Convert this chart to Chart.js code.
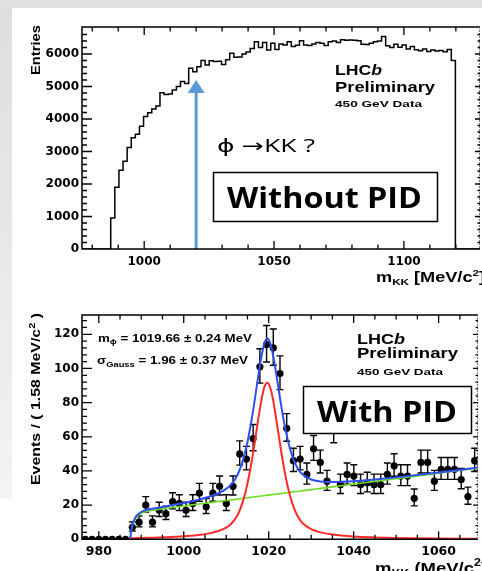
<!DOCTYPE html>
<html>
<head>
<meta charset="utf-8">
<script src="https://cdn.jsdelivr.net/npm/chart.js@4.4.1/dist/chart.umd.min.js"></script>
<style>
  html, body { margin: 0; padding: 0; width: 482px; height: 571px; overflow: hidden; background: #fff; }
  #band-top { position: absolute; left: 0; top: 0; width: 482px; height: 8px; background: #e1e1e1; }
  #band-left { position: absolute; left: 0; top: 8px; width: 12px; height: 491px;
               background: linear-gradient(to bottom, #dedede, #f3f3f3); }
  .pad { position: absolute; left: 0; width: 482px; }
  canvas { display: block; }
</style>
</head>
<body>
<div id="band-top"></div>
<div id="band-left"></div>
<div class="pad" style="top:0;height:290px"><canvas id="noPid" width="482" height="290"></canvas></div>
<div class="pad" style="top:290px;height:281px"><canvas id="withPid" width="482" height="281"></canvas></div>

<script>
// ---------------- K+K- invariant mass, 450 GeV data ----------------
const BIN_WIDTH = 1.58;            // MeV/c^2 per bin
const MASS_LOW = 976.05;           // lower edge of both mass windows

// Without PID: entries per bin, first filled bin starts at the KK threshold
const noPidFirstEdge = 987.11;
const noPidEntries = [
  950, 1900, 2420, 2700, 3120, 3420, 3530, 3780, 4080, 4190,
  4310, 4400, 4810, 4750, 4770, 4890, 5000, 5150, 5090, 5560,
  5450, 5610, 5800, 5660, 5790, 5770, 5780, 5680, 5820, 6020,
  5900, 5910, 6000, 6060, 6170, 6380, 6200, 6350, 6120, 6330,
  6140, 6310, 6280, 6380, 6230, 6270, 6410, 6280, 6260, 6310,
  6350, 6330, 6260, 6380, 6400, 6350, 6440, 6420, 6430, 6420,
  6410, 6300, 6290, 6330, 6380, 6400, 6540, 6250, 6200, 6300,
  6210, 6280, 6150, 6230, 6130, 6100, 6150, 6080, 6120, 6090,
  6110, 6070, 6140, 5800
];
const noPidRange = [976.05, 1129.3];
const noPidYMax = 6830;
const noPidXLabels = [1000, 1050, 1100];
const noPidYLabels = [0, 1000, 2000, 3000, 4000, 5000, 6000];
const phiArrowMass = 1020;
const phiArrowTip = 5200;

// With PID: events per 1.58 MeV/c^2 bin
const pidRange = [976.05, 1069.27];
const pidYMax = 131.3;
const pidEvents = [
  0, 0, 0, 0, 0, 0, 0,
  7, 10, 20, 10, 17, 15, 22, 21, 17, 21,
  27, 19, 27, 31, 21, 31, 50, 47, 59, 101,
  114, 112, 97, 65, 46, 47, 38, 53, 45, 34,
  64, 32, 38, 37, 32, 33, 32, 32, 38, 43,
  37, 37, 24, 45, 45, 34, 41, 41, 41, 35,
  25, 46
];
const pidXLabels = [980, 1000, 1020, 1040, 1060];
const pidYLabels = [0, 20, 40, 60, 80, 100, 120];

// fit result sampled along the mass axis
const fitMass = [
  987.4, 987.6, 988, 988.5, 989, 990, 991, 992, 993, 994,
  996, 998, 1000, 1003, 1006, 1008, 1010, 1011, 1012, 1013,
  1014, 1015, 1016, 1016.5, 1017, 1017.5, 1018, 1018.5, 1019, 1019.66,
  1020.3, 1021, 1022, 1023, 1024, 1025, 1026, 1027, 1028, 1030,
  1032, 1035, 1040, 1045, 1050, 1060, 1069.3
];
const fitTotal = [
  0.66, 4.66, 9.17, 12.18, 14.0, 15.98, 17.04, 17.7, 18.06, 18.53,
  19.41, 20.35, 21.24, 22.89, 24.87, 26.8, 29.5, 31.7, 34.8, 39.6,
  46.8, 56.9, 70.3, 78.1, 86.4, 94.8, 102.8, 109.6, 114.8, 117.5,
  115.3, 108.2, 93.2, 77.4, 63.6, 53.1, 45.7, 40.8, 37.9, 35.0,
  33.9, 33.5, 33.95, 35.0, 36.25, 39.13, 41.99
];
const fitSignal = [
  0.66, 0.66, 0.67, 0.68, 0.7, 0.78, 0.84, 0.9, 0.96, 1.03,
  1.21, 1.45, 1.74, 2.39, 3.47, 4.7, 6.8, 8.7, 11.5, 15.9,
  22.8, 32.6, 45.7, 53.3, 61.4, 69.7, 77.5, 84.2, 89.2, 91.7,
  89.3, 82.0, 66.7, 50.5, 36.4, 25.6, 17.9, 12.7, 9.4, 5.9,
  4.2, 2.8, 1.65, 1.1, 0.75, 0.43, 0.29
];
const fitBackground = [
  0, 4.0, 8.5, 11.5, 13.3, 15.2, 16.2, 16.8, 17.1, 17.5,
  18.2, 18.9, 19.5, 20.5, 21.4, 22.1, 22.7, 23.0, 23.3, 23.7,
  24.0, 24.3, 24.6, 24.8, 25.0, 25.1, 25.3, 25.4, 25.6, 25.8,
  26.0, 26.2, 26.5, 26.9, 27.2, 27.5, 27.8, 28.1, 28.5, 29.1,
  29.7, 30.7, 32.3, 33.9, 35.5, 38.7, 41.7
];

// ---------------- helpers ----------------
Chart.defaults.animation = false;
Chart.defaults.font.family = '"DejaVu Sans", sans-serif';
Chart.defaults.color = '#000';

const HELV = '"Liberation Sans", Arial, sans-serif';
const SLIDE = '"Open Sans", "DejaVu Sans", sans-serif';

// draw a run of text pieces, squeezed/stretched horizontally to a given width
function fitText(ctx, parts, x, y, width, rotated) {
  ctx.save();
  let total = 0;
  for (const p of parts) { ctx.font = p.font; p.w = ctx.measureText(p.text).width; total += p.w; }
  ctx.translate(x, y);
  if (rotated) ctx.rotate(-Math.PI / 2);
  ctx.scale(width / total, 1);
  ctx.textAlign = 'left';
  ctx.textBaseline = 'alphabetic';
  ctx.fillStyle = '#000';
  let cx = 0;
  for (const p of parts) { ctx.font = p.font; ctx.fillText(p.text, cx, p.dy || 0); cx += p.w; }
  ctx.restore();
}

function tickList(from, to, step, majors) {
  const out = [];
  for (let v = from; v <= to + 1e-9; v += step) {
    const r = Math.round(v * 1000) / 1000;
    out.push([r, majors.includes(r)]);
  }
  return out;
}

// ROOT-style frame with inward ticks on all four sides
function drawFrame(chart, xTicks, yTicks) {
  const { ctx, chartArea: a } = chart;
  const xs = chart.scales.x, ys = chart.scales.y;
  ctx.save();
  ctx.strokeStyle = '#000';
  ctx.lineWidth = 1.5;
  ctx.beginPath();
  ctx.moveTo(a.right, a.top); ctx.lineTo(a.left, a.top);
  ctx.lineTo(a.left, a.bottom); ctx.lineTo(a.right, a.bottom);
  ctx.stroke();
  ctx.strokeStyle = '#777';
  ctx.lineWidth = 1;
  ctx.setLineDash([2, 1]);
  ctx.beginPath(); ctx.moveTo(a.right - 0.5, a.top); ctx.lineTo(a.right - 0.5, a.bottom); ctx.stroke();
  ctx.setLineDash([]);
  ctx.strokeStyle = '#000';
  ctx.lineWidth = 1.3;
  ctx.beginPath();
  for (const [v, major] of xTicks) {
    const px = xs.getPixelForValue(v);
    if (px < a.left + 1 || px > a.right - 1) continue;
    const L = major ? 8 : 4.5;
    ctx.moveTo(px, a.bottom); ctx.lineTo(px, a.bottom - L);
    ctx.moveTo(px, a.top); ctx.lineTo(px, a.top + L);
  }
  for (const [v, major] of yTicks) {
    const py = ys.getPixelForValue(v);
    if (py < a.top + 1 || py > a.bottom - 1) continue;
    ctx.moveTo(a.left, py); ctx.lineTo(a.left + (major ? 10 : 5), py);
    ctx.moveTo(a.right, py); ctx.lineTo(a.right - (major ? 5 : 2.5), py);
  }
  ctx.stroke();
  ctx.restore();
}

function labelBox(ctx, x, y, w, h) {
  ctx.save();
  ctx.fillStyle = '#fff';
  ctx.fillRect(x, y, w, h);
  ctx.strokeStyle = '#000';
  ctx.lineWidth = 1.5;
  ctx.strokeRect(x, y, w, h);
  ctx.restore();
}

function axisScales(range, yMax, xLabels, yLabels, xHeight, xPad, xSize) {
  return {
    x: {
      type: 'linear', min: range[0], max: range[1],
      grid: { display: false, drawTicks: false }, border: { display: false },
      afterBuildTicks: s => { s.ticks = xLabels.map(v => ({ value: v })); },
      afterFit: s => { s.height = xHeight; },
      ticks: { autoSkip: false, maxRotation: 0, padding: xPad, color: '#000',
               font: { family: '"DejaVu Sans"', weight: 'bold', size: xSize },
               callback: v => String(v) }
    },
    y: {
      type: 'linear', min: 0, max: yMax,
      grid: { display: false, drawTicks: false }, border: { display: false },
      afterBuildTicks: s => { s.ticks = yLabels.map(v => ({ value: v })); },
      afterFit: s => { s.width = 82; },
      ticks: { autoSkip: false, padding: 3, color: '#000',
               font: { family: '"DejaVu Sans"', weight: 'bold', size: 12 },
               callback: v => String(v) }
    }
  };
}

// ---------------- upper pad: without PID ----------------
const histPoints = [{ x: noPidRange[0], y: 0 }];
noPidEntries.forEach((n, i) => histPoints.push({ x: noPidFirstEdge + i * BIN_WIDTH, y: n }));
histPoints.push({ x: noPidFirstEdge + noPidEntries.length * BIN_WIDTH, y: 0 });
histPoints.push({ x: noPidRange[1], y: 0 });

const noPidDecor = {
  id: 'noPidDecor',
  afterDatasetsDraw(chart) {
    const { ctx } = chart;
    const xs = chart.scales.x, ys = chart.scales.y;
    drawFrame(chart,
      tickList(980, 1120, 10, noPidXLabels),
      tickList(0, 6800, 200, noPidYLabels));

    // arrow marking the phi mass
    const ax = xs.getPixelForValue(phiArrowMass);
    const y0 = ys.getPixelForValue(0) - 1;
    const yt = ys.getPixelForValue(phiArrowTip);
    ctx.save();
    ctx.strokeStyle = '#5b9bd5';
    ctx.fillStyle = '#5b9bd5';
    ctx.lineWidth = 3;
    ctx.beginPath(); ctx.moveTo(ax, y0); ctx.lineTo(ax, yt + 12); ctx.stroke();
    ctx.beginPath();
    ctx.moveTo(ax, yt); ctx.lineTo(ax - 8.5, yt + 13); ctx.lineTo(ax + 8.5, yt + 13);
    ctx.closePath(); ctx.fill();
    ctx.restore();

    fitText(ctx, [{ text: 'LHC', font: 'bold 14px ' + HELV }, { text: 'b', font: 'italic bold 14px ' + HELV }], 335, 75, 47);
    fitText(ctx, [{ text: 'Preliminary', font: 'bold 14px ' + HELV }], 335, 91.7, 100);
    fitText(ctx, [{ text: '450 GeV Data', font: 'bold 9.5px ' + HELV }], 335, 107.3, 87);

    fitText(ctx, [{ text: 'ϕ →KK ?', font: '18px ' + SLIDE }], 217, 151.7, 98);
    labelBox(ctx, 213.5, 172.5, 224, 49);
    fitText(ctx, [{ text: 'Without PID', font: 'bold 28px ' + SLIDE }], 227, 208.3, 195);

    fitText(ctx, [{ text: 'Entries', font: 'bold 13px ' + HELV }], 40, 75, 50, true);
    fitText(ctx, [
      { text: 'm', font: 'bold 14px ' + HELV },
      { text: 'KK', font: 'bold 9px ' + HELV, dy: 3 },
      { text: ' [MeV/c', font: 'bold 14px ' + HELV },
      { text: '2', font: 'bold 9px ' + HELV, dy: -6 },
      { text: ']', font: 'bold 14px ' + HELV }
    ], 376, 282, 109);
  }
};

new Chart(document.getElementById('noPid'), {
  type: 'line',
  data: {
    datasets: [{
      data: histPoints, stepped: 'before',
      borderColor: '#000', borderWidth: 1.5, pointRadius: 0, fill: false
    }]
  },
  options: {
    responsive: false,
    events: [],
    layout: { padding: { left: 0, top: 27, right: 2, bottom: 0 } },
    plugins: { legend: { display: false }, tooltip: { enabled: false } },
    scales: axisScales(noPidRange, noPidYMax, noPidXLabels, noPidYLabels, 41, 6, 12)
  },
  plugins: [noPidDecor]
});

// ---------------- lower pad: with PID ----------------
const pidPoints = pidEvents.map((n, i) => ({ x: MASS_LOW + (i + 0.5) * BIN_WIDTH, y: n }));
const curve = vals => fitMass.map((m, i) => ({ x: m, y: vals[i] }));

const pidErrors = {
  id: 'pidErrors',
  beforeDatasetsDraw(chart) {
    const { ctx, chartArea: a } = chart;
    const xs = chart.scales.x, ys = chart.scales.y;
    ctx.save();
    ctx.beginPath(); ctx.rect(a.left, a.top, a.right - a.left, a.bottom - a.top); ctx.clip();
    ctx.strokeStyle = '#000';
    ctx.lineWidth = 1.4;
    ctx.beginPath();
    pidPoints.forEach(p => {
      if (p.y <= 0) return;
      const s = Math.sqrt(p.y + 0.25);
      const px = xs.getPixelForValue(p.x);
      const lo = ys.getPixelForValue(p.y + 0.5 - s);
      const hi = ys.getPixelForValue(p.y + 0.5 + s);
      ctx.moveTo(px, lo); ctx.lineTo(px, hi);
      ctx.moveTo(px - 3.5, lo); ctx.lineTo(px + 3.5, lo);
      ctx.moveTo(px - 3.5, hi); ctx.lineTo(px + 3.5, hi);
    });
    ctx.stroke();
    ctx.restore();
  }
};

const pidDecor = {
  id: 'pidDecor',
  afterDatasetsDraw(chart) {
    const { ctx } = chart;
    drawFrame(chart,
      tickList(980, 1065, 5, pidXLabels),
      tickList(0, 128, 4, pidYLabels));

    fitText(ctx, [
      { text: 'm', font: 'bold 10px ' + HELV },
      { text: 'ϕ', font: 'bold 7px ' + HELV, dy: 2.5 },
      { text: ' = 1019.66 ± 0.24 MeV', font: 'bold 10px ' + HELV }
    ], 98, 51.7, 154);
    fitText(ctx, [
      { text: 'σ', font: 'bold 10px ' + HELV },
      { text: 'Gauss', font: 'bold 7px ' + HELV, dy: 2.5 },
      { text: ' = 1.96 ± 0.37 MeV', font: 'bold 10px ' + HELV }
    ], 97, 74, 151);

    fitText(ctx, [{ text: 'LHC', font: 'bold 15px ' + HELV }, { text: 'b', font: 'italic bold 15px ' + HELV }], 357, 54, 48);
    fitText(ctx, [{ text: 'Preliminary', font: 'bold 14.5px ' + HELV }], 357, 67.5, 101);
    fitText(ctx, [{ text: '450 GeV Data', font: 'bold 9.5px ' + HELV }], 357, 85, 86);

    labelBox(ctx, 303.5, 96.5, 168, 47);
    fitText(ctx, [{ text: 'With PID', font: 'bold 28px ' + SLIDE }], 317, 131.7, 140);

    fitText(ctx, [
      { text: 'Events / ( 1.58 MeV/c', font: 'bold 13px ' + HELV },
      { text: '2', font: 'bold 9px ' + HELV, dy: -5 },
      { text: ' )', font: 'bold 13px ' + HELV }
    ], 40, 195, 172, true);
    fitText(ctx, [
      { text: 'm', font: 'bold 15px ' + HELV },
      { text: 'KK', font: 'bold 10px ' + HELV, dy: 4 },
      { text: ' (MeV/c', font: 'bold 15px ' + HELV },
      { text: '2', font: 'bold 10px ' + HELV, dy: -7 },
      { text: ')', font: 'bold 15px ' + HELV }
    ], 375, 283, 112);
  }
};

new Chart(document.getElementById('withPid'), {
  type: 'line',
  data: {
    datasets: [
      { data: curve(fitTotal), borderColor: '#2f4ff5', borderWidth: 2, pointRadius: 0,
        cubicInterpolationMode: 'monotone', fill: false },
      { data: curve(fitSignal), borderColor: '#ff2a2a', borderWidth: 2, pointRadius: 0,
        cubicInterpolationMode: 'monotone', fill: false },
      { data: curve(fitBackground), borderColor: '#6ddc22', borderWidth: 1.6, pointRadius: 0,
        cubicInterpolationMode: 'monotone', fill: false },
      { data: pidPoints, showLine: false, pointRadius: 3.6, pointBorderWidth: 0,
        pointBackgroundColor: '#000', borderColor: '#000' }
    ]
  },
  options: {
    responsive: false,
    events: [],
    layout: { padding: { left: 0, top: 25, right: 1, bottom: 0 } },
    plugins: { legend: { display: false }, tooltip: { enabled: false } },
    scales: axisScales(pidRange, pidYMax, pidXLabels, pidYLabels, 31.7, 5, 12.5)
  },
  plugins: [pidErrors, pidDecor]
});
</script>
</body>
</html>
